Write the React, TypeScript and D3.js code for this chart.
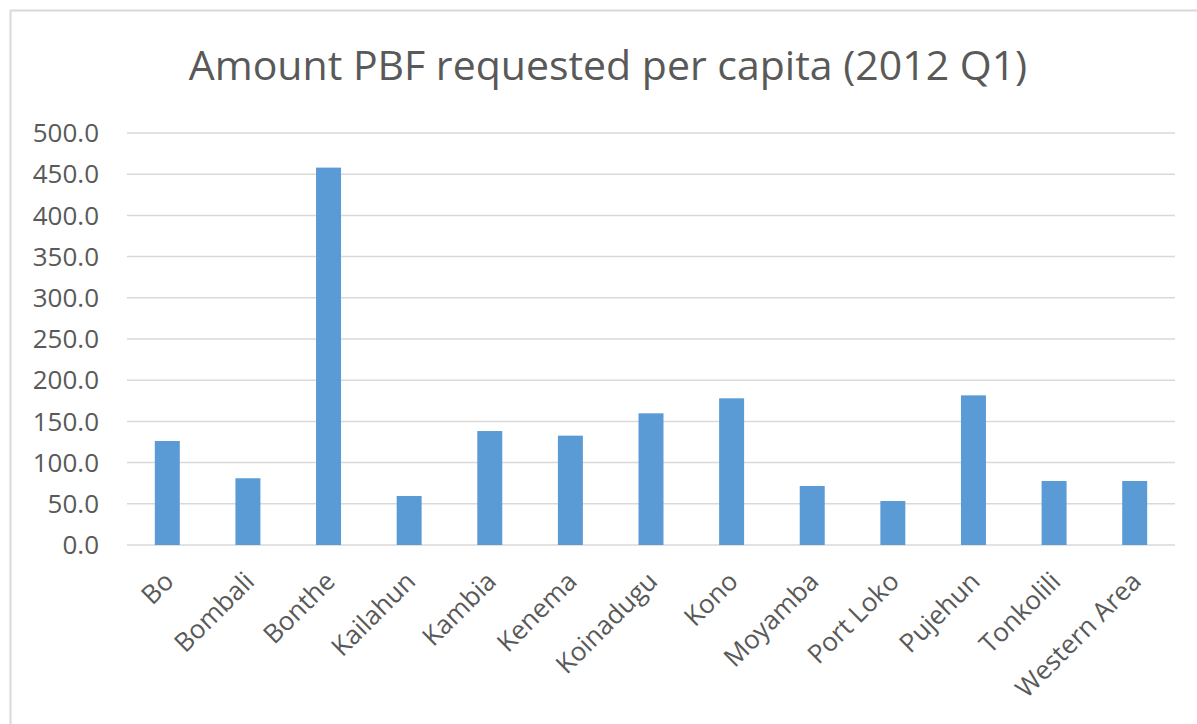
import React from "react";
import * as d3 from "d3";

const categories = [
  "Bo", "Bombali", "Bonthe", "Kailahun", "Kambia", "Kenema", "Koinadugu",
  "Kono", "Moyamba", "Port Loko", "Pujehun", "Tonkolili", "Western Area",
];
const values = [126.2, 81.0, 458.0, 59.5, 138.3, 132.7, 159.8, 178.0, 71.6, 53.4, 181.6, 77.7, 77.7];
const yTicks = [0, 50, 100, 150, 200, 250, 300, 350, 400, 450, 500];
const title = "Amount PBF requested per capita (2012 Q1)";

const W = 1197;
const H = 724;
const FONT = "'Open Sans', 'DejaVu Sans', sans-serif";
const TEXT = "#595959";
const GRID = "#D9D9D9";
const BAR = "#5B9BD5";

export default function App() {
  const x = d3.scaleBand<string>().domain(categories).range([127, 1175]).paddingInner(0.69).paddingOuter(0.345);
  const y = d3.scaleLinear().domain([0, 500]).range([545, 133]);
  const fmt = d3.format(".1f");
  return (
    <svg width={W} height={H} style={{ position: "absolute", left: 0, top: 0, background: "#fff" }}>
      <rect x={0} y={0} width={W} height={H} fill="#fff" />
      <line x1={10.5} y1={10} x2={10.5} y2={H} stroke={GRID} strokeWidth={2} />
      <line x1={10} y1={10.5} x2={W} y2={10.5} stroke={GRID} strokeWidth={2} />
      <text x={608} y={80} textAnchor="middle" fontFamily={FONT} fontSize={41} fill={TEXT}>
        {title}
      </text>
      {yTicks.map((t) => (
        <g key={t}>
          <line x1={127} x2={1175} y1={y(t)} y2={y(t)} stroke={GRID} strokeWidth={1.5} />
          <text x={99} y={y(t)} dy="0.35em" textAnchor="end" fontFamily={FONT} fontSize={26} fill={TEXT}>
            {fmt(t)}
          </text>
        </g>
      ))}
      {categories.map((c, i) => (
        <rect key={c} x={x(c)} y={y(values[i])} width={x.bandwidth()} height={y(0) - y(values[i])} fill={BAR} />
      ))}
      {categories.map((c) => {
        const cx = (x(c) as number) + x.bandwidth() / 2 + 8;
        const cy = 583;
        return (
          <text key={c} x={cx} y={cy} textAnchor="end" transform={`rotate(-45 ${cx} ${cy})`} fontFamily={FONT} fontSize={26} fill={TEXT}>
            {c}
          </text>
        );
      })}
    </svg>
  );
}
